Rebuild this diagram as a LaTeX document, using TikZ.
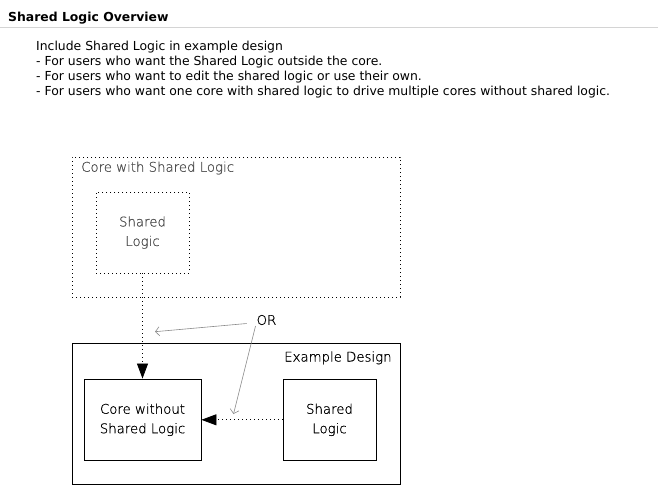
\documentclass[tikz,border=0pt]{standalone}
\usepackage{fontspec}
\setmainfont{DejaVu Sans}
\newfontfamily\lightfont[FakeBold=0.8]{DejaVu Sans ExtraLight}
\usetikzlibrary{positioning,arrows.meta,calc}
\definecolor{rulegray}{HTML}{D4D4D4}
\definecolor{labelgray}{HTML}{505050}
\definecolor{orgray}{HTML}{8A8A8A}
\tikzset{
  dotbox/.style={draw, line width=0.8pt, dash pattern=on 0.8pt off 3.2pt, inner sep=0pt},
  solidbox/.style={draw, line width=0.8pt, inner sep=0pt},
  boxtext/.style={font=\lightfont\fontsize{13.3}{19.5}\selectfont, align=center},
  bodytext/.style={font=\fontsize{12.4}{15}\selectfont, anchor=base west, inner sep=0pt},
  dotarrow/.style={line width=0.8pt, dash pattern=on 0.8pt off 3.2pt, -{Triangle[length=15pt,width=11pt]}},
  orarrow/.style={orgray, line width=0.6pt, -{Straight Barb[length=4pt,width=9pt]}}
}
\begin{document}
\begin{tikzpicture}[x=1pt,y=-1pt]
    \useasboundingbox (0,0) rectangle (658,501);

    % Heading and rule
    \node[bodytext, font=\bfseries\fontsize{12.4}{15}\selectfont] (title) at (8,21.7) {Shared Logic Overview};
    \draw[rulegray, line width=0.8pt] (0,27) -- (658,27);

    % Description lines
    \node[bodytext] (intro) at (36,50.5) {Include Shared Logic in example design};
    \node[bodytext] (useA) at (36,65.5) {- For users who want the Shared Logic outside the core.};
    \node[bodytext] (useB) at (36,80.5) {- For users who want to edit the shared logic or use their own.};
    \node[bodytext] (useC) at (36,95.5) {- For users who want one core with shared logic to drive multiple cores without shared logic.};

    % Core with Shared Logic (dotted)
    \node[dotbox, minimum width=328pt, minimum height=140pt] (corewith) at (236,227) {};
    \node[boxtext, text=labelgray, anchor=base west, inner sep=0pt] (corewithlbl) at (81,171.7) {Core with Shared Logic};
    \node[dotbox, boxtext, text=labelgray, minimum width=93pt, minimum height=81pt] (sharedA) at (142.5,232.5) {Shared\\Logic};

    % Example Design (solid)
    \node[solidbox, minimum width=328.7pt, minimum height=141pt] (exdesign) at (236.35,413.5) {};
    \node[boxtext, anchor=base west, inner sep=0pt] (exdesignlbl) at (284,361.5) {Example Design};
    \node[solidbox, boxtext, minimum width=117pt, minimum height=81.7pt] (corewo) at (142.5,419.8) {Core without\\Shared Logic};
    \node[solidbox, boxtext, minimum width=93pt, minimum height=81.7pt] (sharedB) at (329.5,419.8) {Shared\\Logic};

    % Dotted connections
    \draw[dotarrow] (sharedA.south) -- (corewo.north);
    \draw[dotarrow] (sharedB.west) -- (corewo.east);

    % OR pointers
    \node[boxtext, inner sep=0pt] (or) at (266.5,320) {OR};
    \coordinate (orA) at (246.7,323.5);
    \coordinate (orB) at (255.5,326);
    \coordinate (ptA) at (155,331.7);
    \coordinate (ptB) at (233.5,414);
    \draw[orarrow] (orA) -- (ptA);
    \draw[orarrow] (orB) -- (ptB);

  \end{tikzpicture}
\end{document}
